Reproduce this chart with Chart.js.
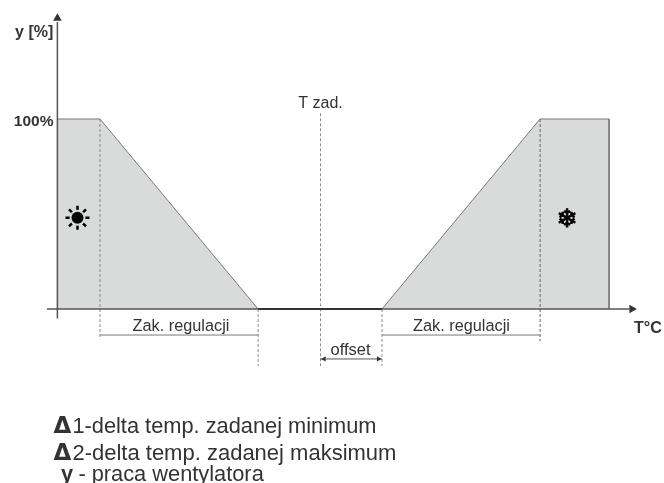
<!DOCTYPE html>
<html lang="pl">
<head>
<meta charset="utf-8">
<title>Praca wentylatora</title>
<style>
    html, body { margin: 0; background: #fff; overflow: hidden; }
    canvas { display: block; }
</style>
<script src="https://cdn.jsdelivr.net/npm/chart.js@4/dist/chart.umd.min.js"></script>
</head>
<body>
<canvas id="chart" width="664" height="483"></canvas>
<script>
// temperatura liczona od T zad. (0), y w procentach
const heatT = [-8.77, -7.35, -2.08];
const heatY = [100, 100, 0];
const coolT = [2.05, 7.32, 9.62, 9.62];
const coolY = [0, 100, 100, 0];
const breakT = [-7.35, -2.08, 0, 2.05, 7.32];
const yTickLabels = ['100%'];
const axisLabels = ['y [%]', 'T°C'];
const bandLabels = ['T zad.', 'Zak. regulacji', 'offset'];
const legendLines = ['1-delta temp. zadanej minimum', '2-delta temp. zadanej maksimum', '- praca wentylatora'];

const gray = '#77797a';
const dash = '#8c8c8c';

function seg(x1, y1, x2, y2, color, width, dashed) {
    return {
        data: [{ x: x1, y: y1 }, { x: x2, y: y2 }],
        borderColor: color,
        borderWidth: width,
        borderDash: dashed ? [3, 2] : [],
        pointRadius: 0,
        fill: false
    };
}

function arrowHead(x, y, angle, size) {
    return {
        data: [{ x, y }],
        pointStyle: 'triangle',
        rotation: angle,
        pointRadius: size,
        pointBackgroundColor: '#333',
        pointBorderWidth: 0,
        showLine: false
    };
}

// slonce skladane z samych znacznikow: promienie, przerwa, tarcza
function sunPart(style, radius, fillColor, lineColor, lineWidth) {
    return {
        data: [{ x: -8.1, y: 48 }],
        pointStyle: style,
        pointRadius: radius,
        pointBackgroundColor: fillColor,
        pointBorderColor: lineColor,
        pointBorderWidth: lineWidth,
        showLine: false
    };
}

const datasets = [
    {
        data: heatT.map((t, i) => ({ x: t, y: heatY[i] })),
        borderColor: gray, borderWidth: 1, backgroundColor: '#d9dbdb', fill: 'origin', pointRadius: 0
    },
    {
        data: coolT.map((t, i) => ({ x: t, y: coolY[i] })),
        borderColor: gray, borderWidth: 1, backgroundColor: '#d9dbdb', fill: 'origin', pointRadius: 0
    },
    // linie przerywane
    seg(breakT[0], 100, breakT[0], -16, dash, 1, true),
    seg(breakT[1], 0, breakT[1], -30, dash, 1, true),
    seg(breakT[2], 103, breakT[2], -30, dash, 1, true),
    seg(breakT[3], 0, breakT[3], -30, dash, 1, true),
    seg(breakT[4], 100, breakT[4], -17, '#666', 1, true),
    // zakresy
    seg(breakT[0], -13.7, breakT[1], -13.7, gray, 1),
    seg(breakT[3], -13.7, breakT[4], -13.7, gray, 1),
    seg(breakT[2], -26.3, breakT[3], -26.3, '#555', 1),
    arrowHead(0.12, -26.3, -90, 3),
    arrowHead(1.93, -26.3, 90, 3),
    // osie
    seg(-9.12, 0, 10.3, 0, '#555', 1.5),
    seg(breakT[1], 0, breakT[3], 0, '#333', 2),
    seg(heatT[0], -5, heatT[0], 151, '#555', 1.5),
    arrowHead(10.38, 0, 90, 5),
    arrowHead(heatT[0], 153, 0, 5),
    sunPart('star', 12, '#000', '#000', 2.5),
    sunPart('circle', 8, '#d9dbdb', '#d9dbdb', 0),
    sunPart('circle', 6, '#000', '#000', 0)
];
// Chart.js rysuje nizszy order na wierzchu, wiec kolejnosc tablicy = kolejnosc malowania
datasets.forEach((d, i) => { d.order = datasets.length - i; });

// podpisy rysowane w jednostkach osi
const notes = [
    { text: axisLabels[0], x: -10.18, y: 143.3, font: 'bold 16px "Liberation Sans"', align: 'left' },
    { text: yTickLabels[0], x: -8.9, y: 96.3, font: 'bold 15.5px "Liberation Sans"', align: 'right' },
    { text: axisLabels[1], x: 10.45, y: -12.5, font: 'bold 16px "Liberation Sans"', align: 'left' },
    { text: bandLabels[0], x: 0, y: 105.8, font: '16px "Liberation Sans"', align: 'center' },
    { text: bandLabels[1], x: -4.65, y: -11.4, font: '16.3px "Liberation Sans"', align: 'center' },
    { text: bandLabels[1], x: 4.7, y: -11.4, font: '16.3px "Liberation Sans"', align: 'center' },
    { text: bandLabels[2], x: 1, y: -24, font: '16.5px "Liberation Sans"', align: 'center' },
    { text: 'Δ', x: -8.9, y: -65.5, font: 'bold 23px "DejaVu Sans"', align: 'left' },
    { text: legendLines[0], x: -8.27, y: -65.5, font: '21.8px "Liberation Sans"', align: 'left' },
    { text: 'Δ', x: -8.9, y: -79.5, font: 'bold 23px "DejaVu Sans"', align: 'left' },
    { text: legendLines[1], x: -8.27, y: -79.5, font: '22px "Liberation Sans"', align: 'left' },
    { text: 'y', x: -8.65, y: -90.5, font: 'bold 21.8px "Liberation Sans"', align: 'left' },
    { text: legendLines[2], x: -8.07, y: -90.5, font: '21.8px "Liberation Sans"', align: 'left' },
    { text: '❄', x: 8.22, y: 43.2, font: '25px "DejaVu Sans"', align: 'center', color: '#000', stroke: 1 }
];

const notesPlugin = {
    id: 'notes',
    afterDatasetsDraw(chart) {
        const { ctx, scales: { x, y } } = chart;
        ctx.save();
        ctx.textBaseline = 'alphabetic';
        notes.forEach(n => {
            ctx.font = n.font;
            ctx.textAlign = n.align;
            ctx.fillStyle = n.color || '#333';
            const px = x.getPixelForValue(n.x);
            const py = y.getPixelForValue(n.y);
            ctx.fillText(n.text, px, py);
            if (n.stroke) {
                ctx.lineWidth = n.stroke;
                ctx.strokeStyle = ctx.fillStyle;
                ctx.strokeText(n.text, px, py);
            }
        });
        ctx.restore();
    }
};

new Chart(document.getElementById('chart'), {
    type: 'line',
    data: { datasets },
    plugins: [notesPlugin],
    options: {
        responsive: false,
        animation: false,
        layout: { padding: 0, autoPadding: false },
        plugins: { legend: { display: false }, tooltip: { enabled: false } },
        scales: {
            x: { type: 'linear', display: false, min: -10.683, max: 11.45 },
            y: { type: 'linear', display: false, min: -91.58, max: 162.63 }
        }
    }
});
</script>
</body>
</html>
